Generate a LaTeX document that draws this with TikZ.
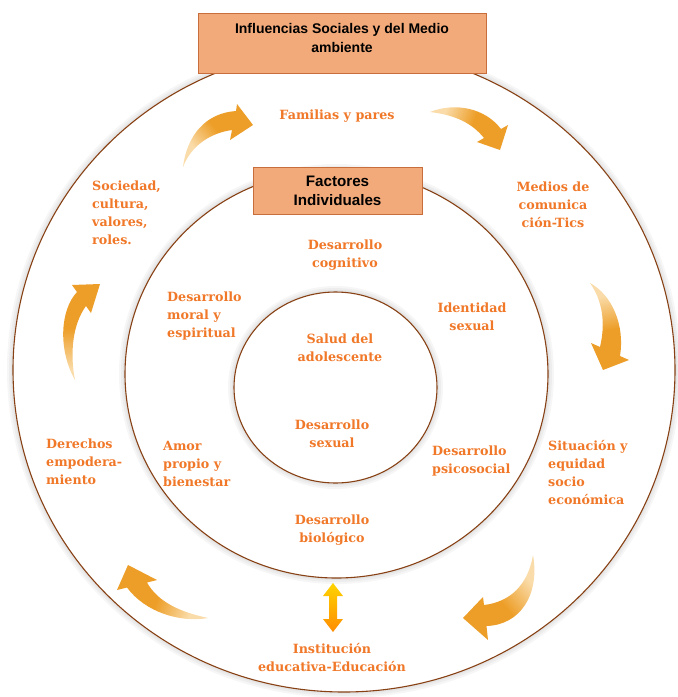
\documentclass[tikz,border=0pt]{standalone}
\usepackage{fontspec}
\usetikzlibrary{shapes.geometric}
\newfontfamily\lblfont{DejaVu Serif}
\newfontfamily\boxfont{Liberation Sans}
\definecolor{ringc}{RGB}{135,65,20}
\definecolor{lblc}{RGB}{240,120,40}
\definecolor{arrc}{RGB}{237,158,40}
\definecolor{arrtail}{RGB}{250,220,170}
\definecolor{boxfill}{RGB}{243,170,122}
\definecolor{boxline}{RGB}{200,110,60}
\pgfdeclarehorizontalshading{arrsh}{100bp}{color(0bp)=(arrtail); color(30bp)=(arrtail); color(52bp)=(arrc); color(100bp)=(arrc)}
\tikzset{
  ring/.style={ellipse, draw=ringc, line width=1.1pt, fill=white, inner sep=0pt, outer sep=0pt},
  glow/.style={fill=black, opacity=0.035},
  lbl/.style={text=lblc, font=\lblfont\bfseries\fontsize{12.7}{18}\selectfont, align=center, inner sep=0pt},
  lblL/.style={lbl, align=left, anchor=west},
  titlebox/.style={draw=boxline, fill=boxfill, line width=0.8pt, align=center, inner sep=0pt, text=black},
  curvarrow/.style={shading=arrsh, draw=none},
}
\begin{document}
\begin{tikzpicture}[x=1pt,y=-1pt]
\useasboundingbox (0,0) rectangle (678,697);
% outer ring
\foreach \d in {6,4,2}{\fill[glow] (344,370) ellipse [x radius=331pt+\d pt, y radius=322pt+\d pt];}
\node[ring, minimum width=662pt, minimum height=644pt] (outer) at (344,370) {};
% middle ring
\foreach \d in {6,4,2}{\fill[glow] (336.5,374) ellipse [x radius=211.5pt+\d pt, y radius=204pt+\d pt];}
\node[ring, minimum width=423pt, minimum height=408pt] (middle) at (336.5,374) {};
% inner ring
\foreach \d in {6,4,2}{\fill[glow] (335.5,387.5) ellipse [x radius=101.5pt+\d pt, y radius=95.5pt+\d pt];}
\node[ring, minimum width=203pt, minimum height=191pt] (inner) at (335.5,387.5) {};

% title boxes
\node[titlebox, minimum width=288pt, minimum height=60pt] (influ) at (342,43) {};
\node[align=center, inner sep=0pt, font=\boxfont\bfseries\fontsize{14}{18.5}\selectfont] (influtxt) at (342,38)
      {Influencias Sociales y del Medio\\ambiente};
\node[titlebox, minimum width=169pt, minimum height=47pt,
      font=\boxfont\bfseries\fontsize{15.2}{19}\selectfont] (fact) at (337.5,190.5)
      {Factores\\Individuales};

% labels, outer ring
\node[lbl] (fam) at (337,116) {Familias y pares};
\node[lbl] (medios) at (553,205) {Medios de\\comunica\\ción-Tics};
\node[lblL] (socied) at (92,212.5) {Sociedad,\\cultura,\\valores,\\roles.};
\node[lblL] (derech) at (46,462) {Derechos\\empodera-\\miento};
\node[lblL] (situac) at (548,473) {Situación y\\equidad\\socio\\económica};
\node[lbl] (instit) at (332,658) {Institución\\educativa-Educación};
% labels, middle ring
\node[lbl] (cogn) at (345,255) {Desarrollo\\cognitivo};
\node[lblL] (moral) at (167,316) {Desarrollo\\moral y\\espiritual};
\node[lbl] (ident) at (472,316.5) {Identidad\\sexual};
\node[lblL] (psico) at (432,461) {Desarrollo\\psicosocial};
\node[lblL] (amor) at (163,464) {Amor\\propio y\\bienestar};
\node[lbl] (biol) at (332,530) {Desarrollo\\biológico};
% labels, inner ring
\node[lbl] (salud) at (340,348) {Salud del\\adolescente};
\node[lbl] (sexual) at (332,434) {Desarrollo\\sexual};

% curved block arrows
\shade[curvarrow, shading angle=40] (183,167) .. controls (187,135) and (206,113) .. (236,111)
  -- (237,104) -- (253,125) -- (230,140) -- (232,130) .. controls (210,133) and (191,146) .. cycle;
\shade[curvarrow, shading angle=-20] (430,112) .. controls (455,102) and (485,108) .. (501,129)
  -- (508,125) -- (500,150) -- (477,142) -- (484,138) .. controls (472,123) and (455,115) .. cycle;
\shade[curvarrow, shading angle=-80] (590,283) .. controls (612,295) and (625,325) .. (620,356)
  -- (629,360) -- (603,370) -- (591,343) -- (600,347) .. controls (606,322) and (602,300) .. cycle;
\shade[curvarrow, shading angle=-140] (533,555) .. controls (540,595) and (520,625) .. (486.5,626)
  -- (488,640) -- (463,618) -- (483,597) -- (484,605) .. controls (510,602) and (528,585) .. cycle;
\shade[curvarrow, shading angle=160] (208,618) .. controls (180,612) and (158,602) .. (147,582.5)
  -- (157,580) -- (128,565) -- (117,590) -- (127,587.5) .. controls (145,612) and (180,623) .. cycle;
\shade[curvarrow, shading angle=90] (75,380) .. controls (58,350) and (60,310) .. (77,292)
  -- (72,285) -- (100,284) -- (91,313) -- (86,306) .. controls (72,325) and (70,355) .. cycle;

% double arrow between ring and institution
\coordinate (datop) at (333,583);
\coordinate (dabot) at (333,632);
\shade[top color={rgb,255:red,255;green,212;blue,0}, bottom color={rgb,255:red,255;green,140;blue,0}]
  (datop) -- ++(10,13) -- ++(-6,0) -- ++(0,23) -- ++(6,0) -- (dabot) -- ++(-10,-13) -- ++(6,0)
  -- ++(0,-23) -- ++(-6,0) -- cycle;
\end{tikzpicture}
\end{document}
